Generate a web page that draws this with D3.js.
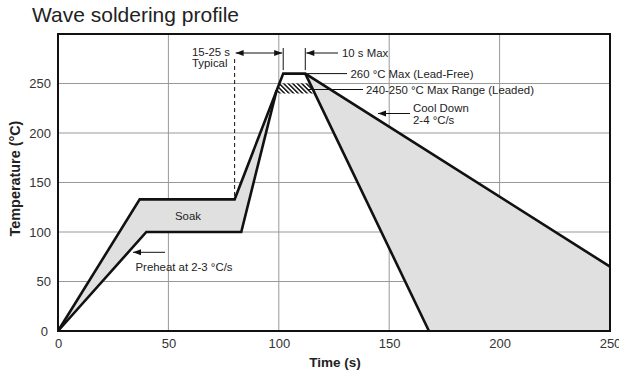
<!DOCTYPE html>
<html><head><meta charset="utf-8">
<script src="https://cdn.jsdelivr.net/npm/d3@7"></script>
<style>
body{margin:0;background:#fff;}
text{font-family:"Liberation Sans",Arial,Helvetica,sans-serif;}
</style>
</head><body>
<svg id="chart" width="619" height="374"></svg>
<script>
// ---- data ----
const chartTitle = "Wave soldering profile";
const xTicks = [0, 50, 100, 150, 200, 250];
const yTicks = [0, 50, 100, 150, 200, 250];
// upper (lead-free) profile: time (s), temperature (°C)
const upperProfile = [[0,0],[37,133],[80,133],[102,260],[112,260],[250,65]];
// lower profile
const lowerProfile = [[0,0],[40,100],[83,100],[99,243]];
// fast cool-down line
const coolFast = [[112,260],[168,0]];
const leadedRange = [240, 250];
const soakEndTime = 80;   // dashed marker
const peakWindow = [102, 112];

const svg = d3.select("#chart");
const x = d3.scaleLinear().domain([0,250]).range([58,610]);
const y = d3.scaleLinear().domain([0,300]).range([331,34]);

// title
svg.append("text").attr("x",32).attr("y",22).attr("font-size",21).attr("fill","#222").text(chartTitle);

// grid
const g = svg.append("g");
g.selectAll(".vg").data(xTicks.filter(d=>d>0&&d<250)).join("line")
  .attr("x1",d=>x(d)).attr("x2",d=>x(d)).attr("y1",y(0)).attr("y2",y(300))
  .attr("stroke","#999").attr("stroke-width",1);
g.selectAll(".hg").data(yTicks.filter(d=>d>0)).join("line")
  .attr("x1",x(0)).attr("x2",x(250)).attr("y1",d=>y(d)).attr("y2",d=>y(d))
  .attr("stroke","#999").attr("stroke-width",1);

const line = d3.line().x(d=>x(d[0])).y(d=>y(d[1]));

// fills
const leftFill = upperProfile.slice(0,3).concat([lowerProfile[lowerProfile.length-1]], lowerProfile.slice(0,lowerProfile.length-1).reverse());
const rightFill = [upperProfile[4], upperProfile[5], [250,0], coolFast[1]];
svg.append("path").attr("d", line(leftFill)+"Z").attr("fill","#e0e0e0");
svg.append("path").attr("d", line(rightFill)+"Z").attr("fill","#e0e0e0");

// hatch band (leaded range) between rising edge and cool line
function tAt(seg, v){ const [a,b]=seg; return a[0]+(b[0]-a[0])*(v-a[1])/(b[1]-a[1]); }
const riseSeg=[upperProfile[2],upperProfile[3]];
const band=[[tAt(riseSeg,leadedRange[0]),leadedRange[0]],[tAt(riseSeg,leadedRange[1]),leadedRange[1]],
            [tAt(coolFast,leadedRange[1]),leadedRange[1]],[tAt(coolFast,leadedRange[0]),leadedRange[0]]];
const defs=svg.append("defs");
const pat=defs.append("pattern").attr("id","hatch").attr("patternUnits","userSpaceOnUse")
  .attr("width",3.2).attr("height",3.2).attr("patternTransform","rotate(-45)");
pat.append("rect").attr("width",3.2).attr("height",3.2).attr("fill","#fff");
pat.append("rect").attr("x",0).attr("y",0).attr("width",1.5).attr("height",3.2).attr("fill","#111");
svg.append("path").attr("d", line(band)+"Z").attr("fill","url(#hatch)");

// profile lines
[upperProfile, lowerProfile, coolFast].forEach(p=>{
  svg.append("path").attr("d",line(p)).attr("fill","none").attr("stroke","#111")
    .attr("stroke-width",2.6).attr("stroke-linejoin","miter");
});

// border
svg.append("rect").attr("x",x(0)).attr("y",y(300)).attr("width",x(250)-x(0)).attr("height",y(0)-y(300))
  .attr("fill","none").attr("stroke","#111").attr("stroke-width",2);

// axes
const xAxis = d3.axisBottom(x).tickValues(xTicks).tickSize(0).tickPadding(8);
const gx = svg.append("g").attr("transform",`translate(0,${y(0)})`).call(xAxis);
const yAxis = d3.axisLeft(y).tickValues(yTicks).tickSize(0).tickPadding(7);
const gy = svg.append("g").attr("transform",`translate(${x(0)},0)`).call(yAxis);
[gx,gy].forEach(a=>{ a.select(".domain").remove();
  a.selectAll("text").attr("font-size",13).attr("fill","#333").attr("font-family",'"Liberation Sans",Arial,sans-serif'); });
gy.selectAll(".tick").filter(d=>d===0).select("text").attr("x",-10);

svg.append("text").attr("x",335).attr("y",367).attr("text-anchor","middle")
  .attr("font-size",13.5).attr("font-weight","bold").attr("fill","#222").text("Time (s)");
svg.append("text").attr("transform","translate(19.5,178.5) rotate(-90)").attr("text-anchor","middle")
  .attr("font-size",14.4).attr("font-weight","bold").attr("fill","#222").text("Temperature (°C)");

// annotation helpers
function arrowHead(tx,ty,dir){ // dir: -1 pointing left, 1 pointing right
  const L=8,Hw=3;
  svg.append("path").attr("d",`M${tx},${ty}L${tx-dir*L},${ty-Hw}L${tx-dir*L},${ty+Hw}Z`).attr("fill","#111");
}
function hline(x1,x2,yy){ svg.append("line").attr("x1",x1).attr("x2",x2).attr("y1",yy).attr("y2",yy).attr("stroke","#111").attr("stroke-width",1); }
function label(txt,xx,yy,anchor){ svg.append("text").attr("x",xx).attr("y",yy).attr("dy","0.35em")
  .attr("text-anchor",anchor||"start").attr("font-size",11.4).attr("fill","#222").text(txt); }

// dashed soak end marker
svg.append("line").attr("x1",x(soakEndTime)).attr("x2",x(soakEndTime)).attr("y1",59).attr("y2",y(133))
  .attr("stroke","#111").attr("stroke-width",1).attr("stroke-dasharray","4,3");
// extension lines
peakWindow.forEach(t=>{ svg.append("line").attr("x1",x(t)).attr("x2",x(t)).attr("y1",48).attr("y2",70)
  .attr("stroke","#111").attr("stroke-width",1); });

const ay=53;
hline(x(soakEndTime)+1, x(peakWindow[0])-1, ay);
arrowHead(x(soakEndTime)+1, ay, -1);
arrowHead(x(peakWindow[0])-1, ay, 1);
label("15-25 s", 192, 52);
label("Typical", 192, 63);
hline(x(peakWindow[1])+1, 338, ay);
arrowHead(x(peakWindow[1])+1, ay, -1);
label("10 s Max", 342, 53);

// 260 max leader
hline(x(112)+2, 347, y(260));
label("260 °C Max (Lead-Free)", 350.5, y(260));
// leaded range leader
hline(308, 363, 89.5);
label("240-250 °C Max Range (Leaded)", 366, 90);
// cool down
hline(378, 410, 113.5);
arrowHead(378, 113.5, -1);
label("Cool Down", 413, 108);
label("2-4 °C/s", 413, 120);

// soak & preheat
label("Soak", 188, 216, "middle");
hline(133, 165, 252.3);
arrowHead(133, 252.3, -1);
label("Preheat at 2-3 °C/s", 135.5, 267);
</script>
</body></html>
